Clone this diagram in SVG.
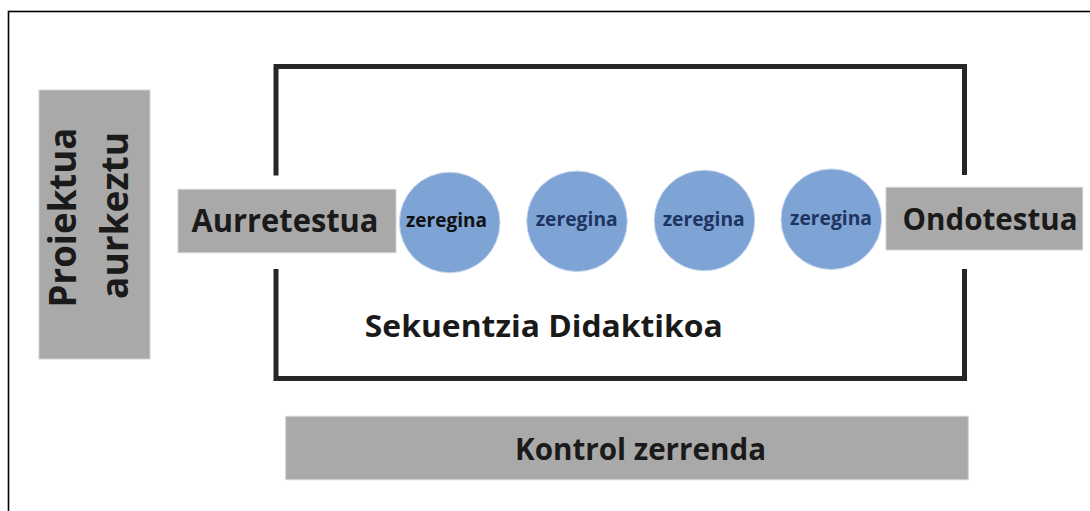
<svg xmlns="http://www.w3.org/2000/svg" width="1090" height="511" viewBox="0 0 1090 511">
<style>
  .box { fill: #a9a9a9; stroke: #d2d2d2; stroke-width: 1; }
  .lbl { font-family: "Open Sans", "Liberation Sans", sans-serif; font-weight: 700; fill: #1a1a1a; text-anchor: middle; }
  .task { fill: #7ea4d6; stroke: #c9d8ee; stroke-width: 1; }
  .ttxt { font-family: "Open Sans", "Liberation Sans", sans-serif; font-weight: 700; font-size: 19px; fill: #1f3560; text-anchor: middle; }
  .frame { fill: none; stroke: #262626; stroke-width: 5; stroke-linejoin: miter; }
</style>
<rect x="0" y="0" width="1090" height="511" fill="#ffffff"/>
<rect x="8.5" y="11.5" width="1200" height="700" fill="none" stroke="#000000" stroke-width="1.6"/>

<g id="connectors">
  <path class="frame" d="M276,175.5 V66.5 H964.5 V175"/>
  <path class="frame" d="M276,269 V378.5 H964.5 V269"/>
</g>

<g id="proiektua">
  <rect class="box" x="39" y="90" width="111" height="269"/>
  <text class="lbl" font-size="37" textLength="180" lengthAdjust="spacingAndGlyphs" transform="translate(75.5,217.5) rotate(-90)">Proiektua</text>
  <text class="lbl" font-size="37" textLength="167" lengthAdjust="spacingAndGlyphs" transform="translate(127.5,215.5) rotate(-90)">aurkeztu</text>
</g>

<g id="aurretestua">
  <rect class="box" x="178" y="189.3" width="218" height="63.4"/>
  <text class="lbl" x="285" y="231.7" font-size="31.5" textLength="187" lengthAdjust="spacingAndGlyphs">Aurretestua</text>
</g>

<g id="zeregina1">
  <circle class="task" cx="449.7" cy="222.5" r="50.3"/>
  <text class="ttxt" x="446.5" y="226.5" textLength="81" lengthAdjust="spacingAndGlyphs" style="fill:#111111">zeregina</text>
</g>
<g id="zeregina2">
  <circle class="task" cx="577" cy="221.3" r="50.3"/>
  <text class="ttxt" x="576.7" y="225.7" textLength="82" lengthAdjust="spacingAndGlyphs">zeregina</text>
</g>
<g id="zeregina3">
  <circle class="task" cx="704.5" cy="220.5" r="50.3"/>
  <text class="ttxt" x="703.7" y="225.7" textLength="82" lengthAdjust="spacingAndGlyphs">zeregina</text>
</g>
<g id="zeregina4">
  <circle class="task" cx="831.3" cy="219.2" r="50.3"/>
  <text class="ttxt" x="831" y="225" textLength="82" lengthAdjust="spacingAndGlyphs">zeregina</text>
</g>

<g id="ondotestua">
  <rect class="box" x="886" y="187.3" width="196.7" height="62.7"/>
  <text class="lbl" x="990" y="230" font-size="30" textLength="175" lengthAdjust="spacingAndGlyphs">Ondotestua</text>
</g>

<g id="sekuentzia">
  <text class="lbl" x="543.8" y="337" font-size="29.5" textLength="358" lengthAdjust="spacingAndGlyphs">Sekuentzia Didaktikoa</text>
</g>

<g id="kontrol">
  <rect class="box" x="285.7" y="416.3" width="682.6" height="63.4"/>
  <text class="lbl" x="640.5" y="460" font-size="30" textLength="251" lengthAdjust="spacingAndGlyphs">Kontrol zerrenda</text>
</g>
</svg>
